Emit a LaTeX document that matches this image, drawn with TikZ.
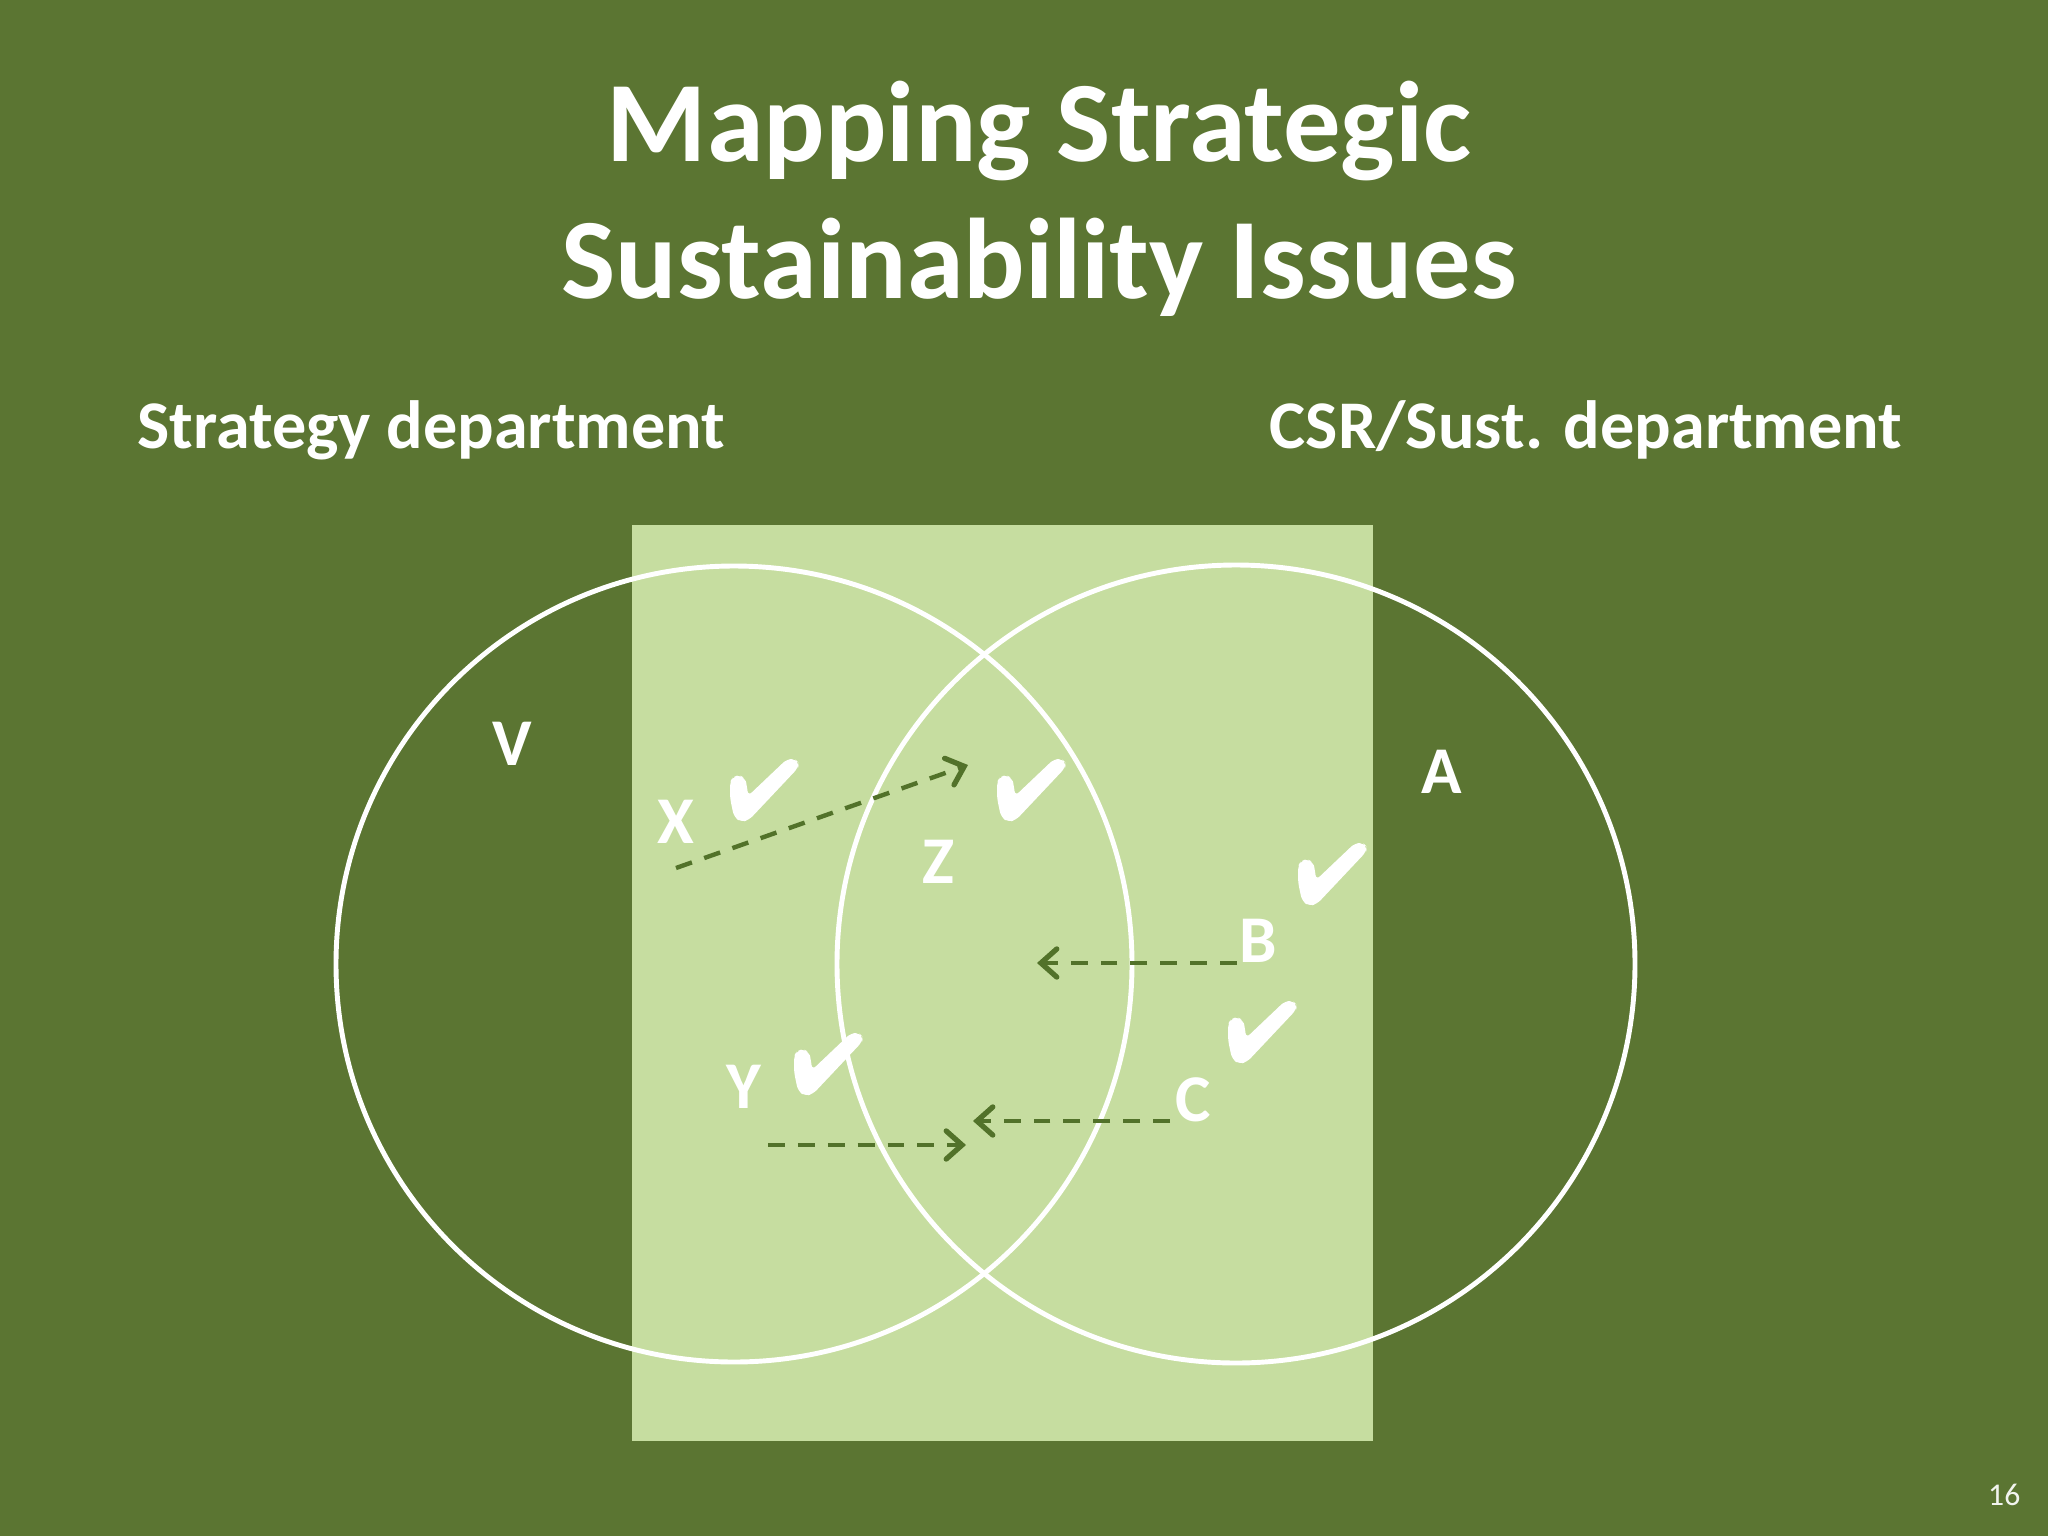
\documentclass[tikz,border=0pt]{standalone}
\usepackage{fontspec}
\setmainfont{Carlito}
\usetikzlibrary{arrows.meta}
\definecolor{bg}{HTML}{5B7532}
\definecolor{lightg}{HTML}{C6DDA0}
\definecolor{arr}{HTML}{52722A}
\tikzset{
 lbl/.style={text=white, font=\fontsize{19}{22}\selectfont\bfseries, inner sep=0},
 dept/.style={text=white, font=\fontsize{19.4}{23}\selectfont\bfseries, inner sep=0, anchor=base west},
 ttl/.style={text=white, font=\fontsize{32.6}{38}\selectfont\bfseries, inner sep=0, anchor=base},
 ring/.style={draw=white, line width=1.4pt},
 darr/.style={draw=arr, line width=1.25pt, dash pattern=on 4.8pt off 3.7pt, -{Straight Barb[length=4.5pt,width=8pt,line cap=round,line width=1.5pt]}},
 checkmark/.pic={\fill[white, rounded corners=1.5pt] (58,1) -- (66,1) -- (70,5) -- (69,10) -- (20,62) -- (12,64) -- (5,59) -- (1,40) -- (1,24) -- (4,19) -- (10,17) -- (16,20) -- (18,28) -- (19,38) -- cycle;}
}
\begin{document}
\begin{tikzpicture}[x=0.01cm,y=-0.01cm]
\useasboundingbox (0,0) rectangle (2048,1536);
\fill[bg] (0,0) rectangle (2048,1536);
% title
\node[ttl] (t1) at (1039,161) {Mapping Strategic};
\node[ttl] (t2) at (1039,298) {Sustainability Issues};
\node[dept] (d1) at (137,448) {Strategy department};
\node[dept, anchor=base east] (d2) at (1903,448) {CSR/Sust. department};
% light rectangle
\fill[lightg] (632,525) rectangle (1373,1441);
% circles
\draw[ring] (734,964) circle[radius=398];
\draw[ring] (1236,964) circle[radius=399];
% labels
\node[lbl] (V) at (512,744) {V};
\node[lbl] (A) at (1442,772) {A};
\node[lbl] (X) at (676,822) {X};
\node[lbl] (Z) at (938,862) {Z};
\node[lbl] (B) at (1258,941) {B};
\node[lbl] (Y) at (744,1087) {Y};
\node[lbl] (C) at (1193,1100) {C};
% checkmarks
\pic at (729,758) {checkmark};
\pic at (996,758) {checkmark};
\pic at (1297,842) {checkmark};
\pic at (1227,1000) {checkmark};
\pic at (793,1032) {checkmark};
% arrow end points
\coordinate (x0) at (676,868);
\coordinate (x1) at (968,765);
\coordinate (b0) at (1237,963);
\coordinate (b1) at (1037,963);
\coordinate (c0) at (1170,1121);
\coordinate (c1) at (973,1121);
\coordinate (y0) at (768,1145);
\coordinate (y1) at (966,1145);
\draw[darr] (x0) -- (x1);
\draw[darr] (b0) -- (b1);
\draw[darr] (c0) -- (c1);
\draw[darr] (y0) -- (y1);
% page number
\node[text=white!92!bg, font=\fontsize{9}{11}\selectfont, inner sep=0, anchor=base east] (pg) at (2021,1505) {16};
\end{tikzpicture}
\end{document}
